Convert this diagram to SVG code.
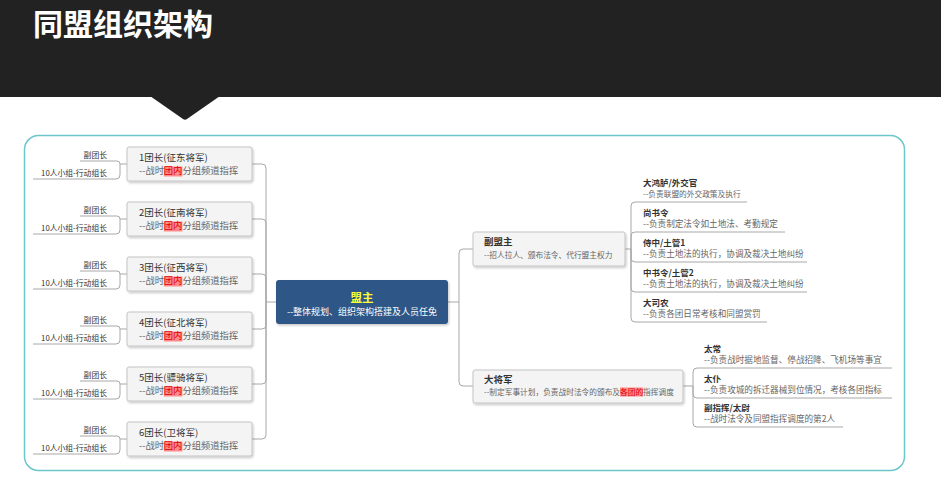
<svg xmlns="http://www.w3.org/2000/svg" width="941" height="478" viewBox="0 0 941 478">
<style>
text{font-family:"Noto Sans CJK SC","Noto Sans",sans-serif}
.box{fill:#f4f4f4;stroke:#c4c4c4;stroke-width:1}
.tt{font-size:9.5px;fill:#333}
.ts{font-size:9.3px;fill:#666}
.lf{font-size:7.8px;fill:#333}
.bt{font-size:9.5px;fill:#333;font-weight:bold}
.bs{font-size:7.7px;fill:#666}
.rt{font-size:8.5px;fill:#333;font-weight:bold}
.rs{font-size:8.6px;fill:#666}
.hl{fill:#e00000}
.hb{fill:#ff8a8a}
.ln{fill:none;stroke:#a8a8a8;stroke-width:1}
</style>
<defs>
<filter id="sh" x="-10%" y="-20%" width="120%" height="150%">
<feDropShadow dx="1" dy="1.5" stdDeviation="1" flood-color="#000" flood-opacity="0.22"/>
</filter>
</defs>
<rect width="941" height="478" fill="#fff"/>
<g id="header">
<rect x="0" y="0" width="941" height="97" fill="#222"/>
<path d="M150,96 L220,96 L187,119 Q185,120.5 183,119 Z" fill="#222"/>
<text x="33" y="35" font-size="30" font-weight="bold" fill="#fff">同盟组织架构</text>
</g>
<rect id="frame" x="24.5" y="135.5" width="880" height="335" rx="14" fill="#fff" stroke="#6cc6cb" stroke-width="1.5"/>
<g id="connectors" class="ln">
<path d="M276,302 H266 M266,302 V168 Q266,164 262,164 H252 M266,302 V223 Q266,219 262,219 H252 M266,302 V278 Q266,274 262,274 H252 M266,302 V325 Q266,329 262,329 H252 M266,302 V380 Q266,384 262,384 H252 M266,302 V435 Q266,439 262,439 H252"/>
<path d="M127,164 H120 Q120,161 117,161 H80 M120,164 V175 Q120,179 116,179 H33"/>
<path d="M127,219 H120 Q120,216 117,216 H80 M120,219 V230 Q120,234 116,234 H33"/>
<path d="M127,274 H120 Q120,271 117,271 H80 M120,274 V285 Q120,289 116,289 H33"/>
<path d="M127,329 H120 Q120,326 117,326 H80 M120,329 V340 Q120,344 116,344 H33"/>
<path d="M127,384 H120 Q120,381 117,381 H80 M120,384 V395 Q120,399 116,399 H33"/>
<path d="M127,439 H120 Q120,436 117,436 H80 M120,439 V450 Q120,454 116,454 H33"/>
<path d="M448,302 H459 V253 Q459,249 463,249 H473 M459,302 V382 Q459,386 463,386 H473"/>
<path d="M625,249 H631 V206 Q631,202 635,202 H747 M631,249 V236 Q631,232 635,232 H785 M631,249 V258 Q631,262 635,262 H807 M631,249 V288 Q631,292 635,292 H807 M631,249 V318 Q631,322 635,322 H767"/>
<path d="M683,386 H693 V372 Q693,368 697,368 H892 M693,386 V394 Q693,398 697,398 H892 M693,386 V423 Q693,427 697,427 H843"/>
</g>
<g id="team1">
<rect class="box" x="127" y="147" width="125" height="34" rx="2" filter="url(#sh)"/>
<text class="tt" x="139" y="161">1团长(征东将军)</text>
<rect class="hb" x="163.8" y="166.5" width="18.6" height="10"/>
<text class="ts" x="139" y="174">--战时<tspan class="hl" x="163.8">团内</tspan><tspan x="182.4">分组频道指挥</tspan></text>
<text class="lf" x="107" y="158" text-anchor="end">副团长</text>
<text class="lf" x="107" y="176" text-anchor="end">10人小组-行动组长</text>
</g>
<g id="team2">
<rect class="box" x="127" y="202" width="125" height="34" rx="2" filter="url(#sh)"/>
<text class="tt" x="139" y="216">2团长(征南将军)</text>
<rect class="hb" x="163.8" y="221.5" width="18.6" height="10"/>
<text class="ts" x="139" y="229">--战时<tspan class="hl" x="163.8">团内</tspan><tspan x="182.4">分组频道指挥</tspan></text>
<text class="lf" x="107" y="213" text-anchor="end">副团长</text>
<text class="lf" x="107" y="231" text-anchor="end">10人小组-行动组长</text>
</g>
<g id="team3">
<rect class="box" x="127" y="257" width="125" height="34" rx="2" filter="url(#sh)"/>
<text class="tt" x="139" y="271">3团长(征西将军)</text>
<rect class="hb" x="163.8" y="276.5" width="18.6" height="10"/>
<text class="ts" x="139" y="284">--战时<tspan class="hl" x="163.8">团内</tspan><tspan x="182.4">分组频道指挥</tspan></text>
<text class="lf" x="107" y="268" text-anchor="end">副团长</text>
<text class="lf" x="107" y="286" text-anchor="end">10人小组-行动组长</text>
</g>
<g id="team4">
<rect class="box" x="127" y="312" width="125" height="34" rx="2" filter="url(#sh)"/>
<text class="tt" x="139" y="326">4团长(征北将军)</text>
<rect class="hb" x="163.8" y="331.5" width="18.6" height="10"/>
<text class="ts" x="139" y="339">--战时<tspan class="hl" x="163.8">团内</tspan><tspan x="182.4">分组频道指挥</tspan></text>
<text class="lf" x="107" y="323" text-anchor="end">副团长</text>
<text class="lf" x="107" y="341" text-anchor="end">10人小组-行动组长</text>
</g>
<g id="team5">
<rect class="box" x="127" y="367" width="125" height="34" rx="2" filter="url(#sh)"/>
<text class="tt" x="139" y="381">5团长(骠骑将军)</text>
<rect class="hb" x="163.8" y="386.5" width="18.6" height="10"/>
<text class="ts" x="139" y="394">--战时<tspan class="hl" x="163.8">团内</tspan><tspan x="182.4">分组频道指挥</tspan></text>
<text class="lf" x="107" y="378" text-anchor="end">副团长</text>
<text class="lf" x="107" y="396" text-anchor="end">10人小组-行动组长</text>
</g>
<g id="team6">
<rect class="box" x="127" y="422" width="125" height="34" rx="2" filter="url(#sh)"/>
<text class="tt" x="139" y="436">6团长(卫将军)</text>
<rect class="hb" x="163.8" y="441.5" width="18.6" height="10"/>
<text class="ts" x="139" y="449">--战时<tspan class="hl" x="163.8">团内</tspan><tspan x="182.4">分组频道指挥</tspan></text>
<text class="lf" x="107" y="433" text-anchor="end">副团长</text>
<text class="lf" x="107" y="451" text-anchor="end">10人小组-行动组长</text>
</g>
<g id="leader">
<rect x="276" y="280" width="172" height="44" rx="3" fill="#2e5687" filter="url(#sh)"/>
<text x="362" y="302" font-size="11.5" font-weight="bold" fill="#ffff33" text-anchor="middle">盟主</text>
<text x="362" y="315" font-size="9" fill="#fff" text-anchor="middle">--整体规划、组织架构搭建及人员任免</text>
</g>
<g id="vice">
<rect class="box" x="473" y="232" width="152" height="34" rx="2" filter="url(#sh)"/>
<text class="bt" x="484" y="245">副盟主</text>
<text class="bs" x="484" y="258">--招人拉人、颁布法令、代行盟主权力</text>
</g>
<g id="general">
<rect class="box" x="473" y="370" width="210" height="33" rx="2" filter="url(#sh)"/>
<text class="bt" x="484" y="383">大将军</text>
<rect class="hb" x="620" y="387.5" width="23.1" height="9"/>
<text class="bs" x="484" y="395">--制定军事计划，负责战时法令的颁布及<tspan class="hl" x="620">各团的</tspan><tspan x="643.1">指挥调度</tspan></text>
</g>
<g id="dahonglu">
<text class="rt" x="643" y="186">大鸿胪/外交官</text>
<text class="bs" x="643" y="197">--负责联盟的外交政策及执行</text>
</g>
<g id="shangshuling">
<text class="rt" x="643" y="216">尚书令</text>
<text class="rs" x="643" y="227">--负责制定法令如土地法、考勤规定</text>
</g>
<g id="shizhong">
<text class="rt" x="643" y="246">侍中/土管1</text>
<text class="rs" x="643" y="257">--负责土地法的执行，协调及裁决土地纠纷</text>
</g>
<g id="zhongshuling">
<text class="rt" x="643" y="276">中书令/土管2</text>
<text class="rs" x="643" y="287">--负责土地法的执行，协调及裁决土地纠纷</text>
</g>
<g id="dasinong">
<text class="rt" x="643" y="306">大司农</text>
<text class="rs" x="643" y="317">--负责各团日常考核和同盟赏罚</text>
</g>
<g id="taichang">
<text class="rt" x="704" y="352">太常</text>
<text class="rs" x="704" y="363">--负责战时据地监督、停战招降、飞机场等事宜</text>
</g>
<g id="taipu">
<text class="rt" x="704" y="382">太仆</text>
<text class="rs" x="704" y="393">--负责攻城的拆迁器械到位情况，考核各团指标</text>
</g>
<g id="taiwei">
<text class="rt" x="704" y="411">副指挥/太尉</text>
<text class="rs" x="704" y="422">--战时法令及同盟指挥调度的第2人</text>
</g>
</svg>
